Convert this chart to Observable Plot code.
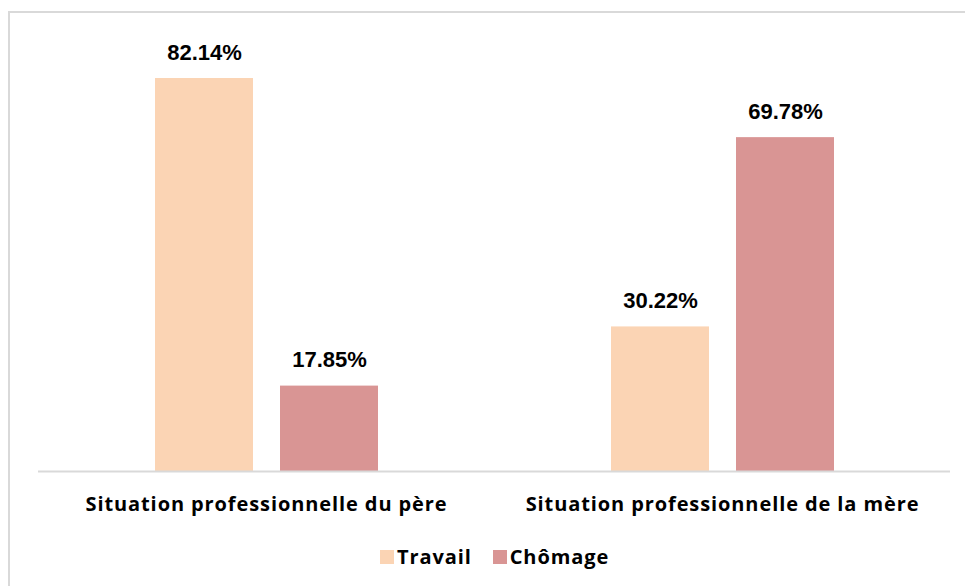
<!DOCTYPE html>
<html>
<head>
<meta charset="utf-8">
<script src="https://cdn.jsdelivr.net/npm/d3@7"></script>
<script src="https://cdn.jsdelivr.net/npm/@observablehq/plot@0.6"></script>
<style>
  html, body { margin: 0; padding: 0; background: #fff; }
  #wrap { position: relative; width: 965px; height: 586px; overflow: hidden; }
  #frame { position: absolute; left: 8px; top: 11px; width: 1000px; height: 700px;
           border-left: 2px solid #d9d9d9; border-top: 2px solid #d9d9d9; }
  #chart { position: absolute; left: 0; top: 0; }
  #legend { position: absolute; left: 380px; top: 543px; display: flex; align-items: center;
            font-family: "Open Sans", sans-serif; font-weight: bold; font-size: 20px;
            letter-spacing: 0.9px; color: #000; }
  #legend .item { display: flex; align-items: center; margin-right: 21px; }
  #legend .sw { width: 14px; height: 14px; margin-right: 3px; }
</style>
</head>
<body>
<div id="wrap">
  <div id="frame"></div>
  <div id="chart"></div>
  <div id="legend"></div>
</div>
<script>
const groups = ["Situation professionnelle du père", "Situation professionnelle de la mère"];
const series = ["Travail", "Chômage"];
const travail = [82.14, 30.22];
const chomage = [17.85, 69.78];
const colors = ["#FBD4B4", "#D99594"];

const data = groups.flatMap((g, i) => [
  {group: g, serie: series[0], value: travail[i]},
  {group: g, serie: series[1], value: chomage[i]}
]);

const chart = Plot.plot({
  width: 965,
  height: 520,
  marginLeft: 38,
  marginRight: 15,
  marginTop: 40.4,
  marginBottom: 49,
  style: {fontFamily: "'Open Sans', sans-serif", background: "transparent"},
  fx: {domain: groups, padding: 0, label: null, axis: null},
  x: {domain: series, axis: null, paddingInner: 0.216, paddingOuter: 0.932},
  y: {domain: [0, 90], axis: null},
  color: {domain: series, range: colors},
  marks: [
    Plot.barY(data, {fx: "group", x: "serie", y: "value", fill: "serie"}),
    Plot.ruleY([0], {stroke: "#d9d9d9", strokeWidth: 2}),
    Plot.text(data, {fx: "group", x: "serie", y: "value", text: d => d.value.toFixed(2) + "%",
      lineAnchor: "bottom", dy: -19, fontSize: 22, fontWeight: "bold", fill: "#000",
      fontFamily: "'Liberation Sans', Arial, sans-serif"}),
    Plot.axisFx({anchor: "bottom", tickSize: 0, tickPadding: 25, label: null,
      fontSize: 20, fontWeight: "bold", fill: "#000", fontFamily: "'Open Sans', sans-serif",
      letterSpacing: 0.9})
  ]
});
chart.querySelectorAll("[aria-label='fx-axis tick label'] text, g[aria-label='fx-axis tick label']").forEach(el => el.style.letterSpacing = "0.9px");
document.getElementById("chart").appendChild(chart);

const legend = document.getElementById("legend");
series.forEach((s, i) => {
  const it = document.createElement("div");
  it.className = "item";
  const sw = document.createElement("div");
  sw.className = "sw";
  sw.style.background = colors[i];
  const t = document.createElement("span");
  t.textContent = s;
  it.appendChild(sw); it.appendChild(t);
  legend.appendChild(it);
});
</script>
</body>
</html>
